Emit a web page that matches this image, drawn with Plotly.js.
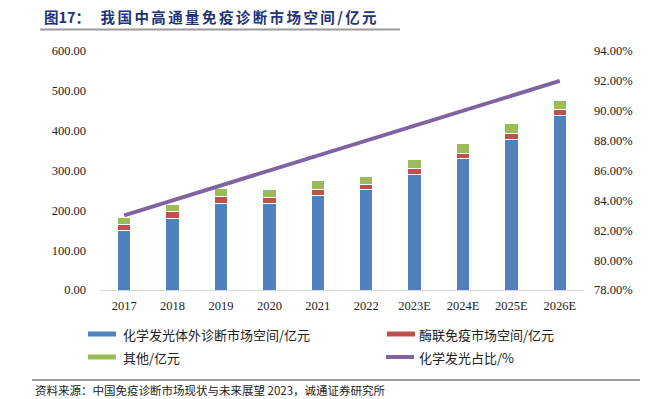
<!DOCTYPE html>
<html>
<head>
<meta charset="utf-8">
<script src="https://cdn.plot.ly/plotly-3.0.1.min.js"></script>
<style>
html,body{margin:0;padding:0;background:#fff;}
#chart{width:658px;height:399px;}
g.annotation[data-index="1"] text{letter-spacing:2.4px;}
</style>
</head>
<body>
<div id="chart"></div>
<script>
const years = ['2017','2018','2019','2020','2021','2022','2023E','2024E','2025E','2026E'];
const clia = [150, 180, 216, 218, 238, 253, 291, 331, 379, 439];
const elisa = [15, 16, 18, 15, 15, 13, 14, 12.5, 13, 14];
const others = [17, 18, 20, 20, 21.5, 20, 22, 24.5, 25, 24];
const cliaShare = [83, 84, 85, 86, 87, 88, 89, 90, 91, 92];
const seriesNames = ['化学发光体外诊断市场空间/亿元', '酶联免疫市场空间/亿元', '其他/亿元', '化学发光占比/%'];
const colors = ['#4F81BD', '#C0504D', '#9BBB59', '#8064A2'];

const cjk = '"Noto Sans CJK SC", "Noto Sans", sans-serif';
const serif = '"Liberation Serif", "DejaVu Serif", serif';

function barTrace(y, i) {
  return {
    type: 'bar', x: years, y: y, name: seriesNames[i],
    marker: {color: colors[i], line: {color: '#ffffff', width: 1}},
    showlegend: false, hoverinfo: 'skip'
  };
}
const traces = [
  barTrace(clia, 0), barTrace(elisa, 1), barTrace(others, 2),
  {type: 'scatter', mode: 'lines', x: years, y: cliaShare, yaxis: 'y2', name: seriesNames[3],
   line: {color: colors[3], width: 4}, showlegend: false, hoverinfo: 'skip'}
];

const W = 658, H = 399, L = 100, B = 109, PW = 484, PH = 239;
const px = x => (x - L) / PW;
const py = y => (H - y - B) / PH;

const legendPos = [
  {x0: 88, y: 334, tx: 121}, {x0: 387, y: 334, tx: 417},
  {x0: 88, y: 357, tx: 121}, {x0: 386, y: 357, tx: 417}
];
const shapes = [
  {type: 'line', xref: 'paper', yref: 'paper', x0: px(40), x1: px(400), y0: py(29.5), y1: py(29.5),
   line: {color: '#9a9a9a', width: 2}},
  {type: 'line', xref: 'paper', yref: 'paper', x0: px(32), x1: px(640), y0: py(380), y1: py(380),
   line: {color: '#9a9a9a', width: 2}}
];
const annotations = [
  {xref: 'paper', yref: 'paper', x: px(42), y: py(17), xanchor: 'left', yanchor: 'middle', showarrow: false,
   text: '<b>图17：</b>', font: {family: cjk, size: 14.5, color: '#22337E'}},
  {xref: 'paper', yref: 'paper', x: px(240), y: py(17), xanchor: 'center', yanchor: 'middle', showarrow: false,
   text: '<b>我国中高通量免疫诊断市场空间/亿元</b>', font: {family: cjk, size: 14.5, color: '#22337E'}},
  {xref: 'paper', yref: 'paper', x: px(33), y: py(390), xanchor: 'left', yanchor: 'middle', showarrow: false,
   text: '资料来源：中国免疫诊断市场现状与未来展望 2023，诚通证券研究所', font: {family: cjk, size: 11.5, color: '#222'}}
];
legendPos.forEach((p, i) => {
  shapes.push({type: 'line', xref: 'paper', yref: 'paper', x0: px(p.x0), x1: px(p.x0 + 28), y0: py(p.y), y1: py(p.y),
    line: {color: colors[i], width: i === 3 ? 4 : 5}});
  annotations.push({xref: 'paper', yref: 'paper', x: px(p.tx), y: py(p.y), xanchor: 'left', yanchor: 'middle', showarrow: false,
    text: seriesNames[i], font: {family: cjk, size: 13, color: '#222'}});
});

const layout = {
  width: W, height: H,
  margin: {l: L, r: W - L - PW, t: H - B - PH, b: B, pad: 0},
  paper_bgcolor: '#fff', plot_bgcolor: '#fff',
  barmode: 'stack', bargap: 0.72,
  showlegend: false,
  font: {family: serif, size: 12, color: '#222'},
  xaxis: {type: 'category', showgrid: false, zeroline: false, showline: true, linecolor: '#d9d9d9', linewidth: 1,
          ticks: '', ticklabelstandoff: 4, tickfont: {family: serif, size: 12.5, color: '#222'}},
  yaxis: {range: [0, 600], dtick: 100, tickformat: '.2f', showgrid: false, zeroline: false, showline: false,
          ticks: '', ticklabelstandoff: 13, tickfont: {family: serif, size: 12.5, color: '#222'}},
  yaxis2: {overlaying: 'y', side: 'right', range: [78, 94], dtick: 2, tickformat: '.2f', ticksuffix: '%',
           showgrid: false, zeroline: false, showline: false, ticks: '', ticklabelstandoff: 9,
           tickfont: {family: serif, size: 12.5, color: '#222'}},
  shapes: shapes,
  annotations: annotations
};
Plotly.newPlot('chart', traces, layout, {displayModeBar: false, staticPlot: true});
</script>
</body>
</html>
